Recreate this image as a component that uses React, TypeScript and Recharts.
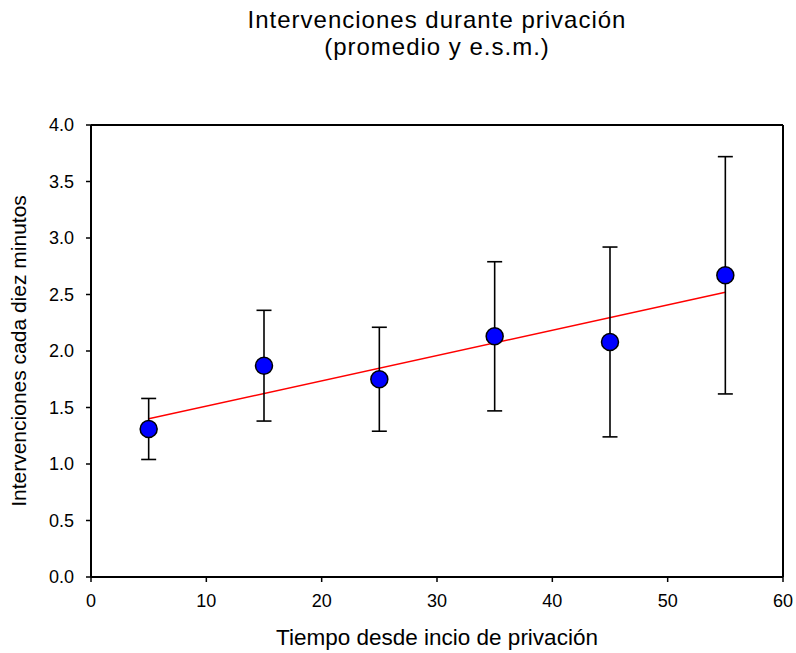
import React from 'react';
import { ComposedChart, XAxis, YAxis, Scatter, ErrorBar, Line, ReferenceLine, Label } from 'recharts';

const times = [5, 15, 25, 35, 45, 55];
const means = [1.31, 1.87, 1.75, 2.13, 2.08, 2.67];
const sem = [0.27, 0.49, 0.46, 0.66, 0.84, 1.05];
const fitX = [5, 55];
const fitY = [1.40, 2.52];
const xTicks = [0, 10, 20, 30, 40, 50, 60];
const yTicks = [0, 0.5, 1, 1.5, 2, 2.5, 3, 3.5, 4];
const titleLines = ['Intervenciones durante privación', '(promedio y e.s.m.)'];
const xLabel = 'Tiempo desde incio de privación';
const yLabel = 'Intervenciones cada diez minutos';

const points = times.map((t, i) => ({ x: t, y: means[i], err: sem[i] }));
const fitData = fitX.map((t, i) => ({ x: t, y: fitY[i] }));

const FONT = '"Liberation Sans", Arial, Helvetica, sans-serif';

const Dot = (props: any) => (
  <circle cx={props.cx} cy={props.cy} r={8.5} fill="#0000ff" stroke="#000" strokeWidth={1.5} />
);

export default function App() {
  return (
    <div style={{ position: 'absolute', left: 0, top: 0, width: 796, height: 653, background: '#fff', fontFamily: FONT }}>
      <div style={{ position: 'absolute', left: 0, top: 6, width: 874, textAlign: 'center', fontSize: 24, letterSpacing: '1px', lineHeight: '27px', color: '#000' }}>
        {titleLines.map((l) => (
          <div key={l}>{l}</div>
        ))}
      </div>
      <ComposedChart width={796} height={653} margin={{ top: 125, right: 13, bottom: 0, left: 0 }}>
        <XAxis
          dataKey="x"
          type="number"
          domain={[0, 60]}
          ticks={xTicks}
          height={76}
          tickSize={5}
          tickMargin={12}
          axisLine={{ stroke: '#000', strokeWidth: 2 }}
          tickLine={{ stroke: '#000', strokeWidth: 1.5 }}
          tick={{ fill: '#000', fontSize: 18, fontFamily: FONT }}
        >
          <Label value={xLabel} position="insideBottom" offset={8} style={{ fill: '#000', fontSize: 22.5, fontFamily: FONT }} />
        </XAxis>
        <YAxis
          type="number"
          domain={[0, 4]}
          ticks={yTicks}
          width={91}
          tickSize={5}
          tickMargin={12}
          tickFormatter={(v: number) => v.toFixed(1)}
          axisLine={{ stroke: '#000', strokeWidth: 2 }}
          tickLine={{ stroke: '#000', strokeWidth: 1.5 }}
          tick={{ fill: '#000', fontSize: 18, fontFamily: FONT }}
        >
          <Label value={yLabel} angle={-90} position="insideLeft" offset={19} style={{ fill: '#000', fontSize: 21, fontFamily: FONT, textAnchor: 'middle' }} />
        </YAxis>
        <ReferenceLine y={4} stroke="#000" strokeWidth={2} />
        <ReferenceLine x={60} stroke="#000" strokeWidth={2} />
        <Line data={fitData} dataKey="y" stroke="#ff0000" strokeWidth={1.4} dot={false} activeDot={false} isAnimationActive={false} />
        <Scatter data={points} dataKey="y" shape={Dot} isAnimationActive={false}>
          <ErrorBar dataKey="err" direction="y" width={7.5} stroke="#000" strokeWidth={1.6} />
        </Scatter>
      </ComposedChart>
    </div>
  );
}
